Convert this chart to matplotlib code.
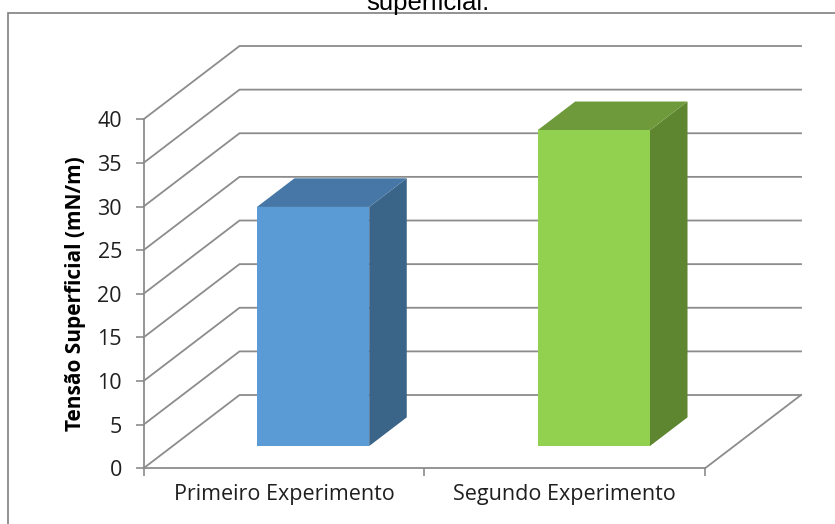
import matplotlib.pyplot as plt
from matplotlib.patches import Polygon, Rectangle

# Tensão superficial medida em cada experimento
categorias = ['Primeiro Experimento', 'Segundo Experimento']
tensao = [27.4, 36.2]
y_ticks = [0, 5, 10, 15, 20, 25, 30, 35, 40]

cores_frente = ['#5B9BD5', '#92D050']
cores_topo = ['#4677A6', '#6E9A3B']
cores_lado = ['#3A6488', '#5E8530']

# perspectiva obliqua (estilo grafico 3D do Excel)
DX = 0.342   # deslocamento horizontal da profundidade (unidades de categoria)
DY = 8.4     # deslocamento vertical da profundidade (unidades de valor)
F0, F1 = 0.304, 0.695   # profundidade da frente e do fundo das barras
LARG = 0.2              # meia largura da barra
GRID = '#8C8C8C'


def desloca(x, y, f):
    return (x + f * DX, y + f * DY)


fig = plt.figure(figsize=(8.35, 5.24), dpi=100)
plt.rcParams['font.family'] = ['Open Sans', 'DejaVu Sans']

# moldura da area do grafico
fig.patches.append(Rectangle((8 / 835, -0.05), 1.0, (524 - 13) / 524 + 0.05,
                             transform=fig.transFigure, fill=False,
                             edgecolor='#7F7F7F', linewidth=1.2))
fig.text(0.513, (524 - 10) / 524, 'superficial.', ha='center', va='baseline',
         fontsize=18.5, family='Liberation Sans', color='black')

ax = fig.add_axes([143.5 / 835, (524 - 468.3) / 524, 2.45 * 280.75 / 835, 49 * 8.725 / 524])
ax.set_xlim(0, 2.45)
ax.set_ylim(0, 49)
ax.patch.set_alpha(0)

n = len(categorias)

# paredes: linhas de grade na lateral esquerda e no fundo
for v in y_ticks:
    x0, y0 = 0, v
    x1, y1 = desloca(0, v, 1)
    x2, y2 = desloca(n, v, 1)
    ax.plot([x0, x1, x2], [y0, y1, y2], color=GRID, lw=1.3,
            solid_joinstyle='miter', clip_on=False, zorder=1)

# piso: borda direita
xa, ya = desloca(n, 0, 0)
xb, yb = desloca(n, 0, 1)
ax.plot([xa, xb], [ya, yb], color=GRID, lw=1.3, clip_on=False, zorder=1)

# barras
for i, v in enumerate(tensao):
    c = i + 0.5
    xl, xr = c - LARG, c + LARG
    frente = [desloca(xl, 0, F0), desloca(xr, 0, F0), desloca(xr, v, F0), desloca(xl, v, F0)]
    topo = [desloca(xl, v, F0), desloca(xr, v, F0), desloca(xr, v, F1), desloca(xl, v, F1)]
    lado = [desloca(xr, 0, F0), desloca(xr, 0, F1), desloca(xr, v, F1), desloca(xr, v, F0)]
    ax.add_patch(Polygon(lado, closed=True, facecolor=cores_lado[i], edgecolor='none', zorder=3))
    ax.add_patch(Polygon(topo, closed=True, facecolor=cores_topo[i], edgecolor='none', zorder=3))
    ax.add_patch(Polygon(frente, closed=True, facecolor=cores_frente[i], edgecolor='none', zorder=4))

# eixos
for lado_sp in ['top', 'right']:
    ax.spines[lado_sp].set_visible(False)
ax.spines['left'].set_bounds(0, 40)
ax.spines['bottom'].set_bounds(0, n)
for sp in ['left', 'bottom']:
    ax.spines[sp].set_color(GRID)
    ax.spines[sp].set_linewidth(1.3)
    ax.spines[sp].set_zorder(2)

ax.set_yticks(y_ticks)
ax.set_yticklabels([str(t) for t in y_ticks])
ax.tick_params(axis='y', direction='out', length=5.5, width=1.2, color=GRID,
               pad=10, labelsize=15.5, labelcolor='#1F1F1F')

ax.set_xticks(range(n + 1))
ax.set_xticklabels([''] * (n + 1))
ax.set_xticks([i + 0.5 for i in range(n)], minor=True)
ax.set_xticklabels(categorias, minor=True)
ax.tick_params(axis='x', which='major', direction='out', length=6, width=1.2, color=GRID)
ax.tick_params(axis='x', which='minor', length=0, pad=11, labelsize=15.5, labelcolor='#1F1F1F')

ax.set_ylabel('Tensão Superficial (mN/m)', fontsize=15, fontweight='bold')
ax.yaxis.set_label_coords(-0.083, 20 / 49)

fig.savefig('out.png', dpi=100)
